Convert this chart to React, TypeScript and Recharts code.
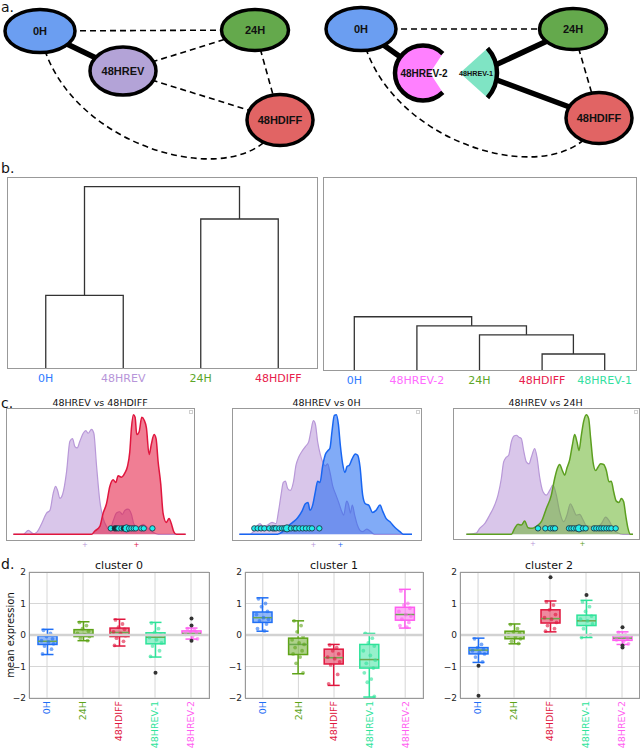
import React from 'react';
import {
  ComposedChart,
  ScatterChart,
  Scatter,
  XAxis,
  YAxis,
  Area,
  Bar,
  CartesianGrid,
  ReferenceLine,
} from 'recharts';

const FONT = '"DejaVu Sans", sans-serif';
const NODE_FONT = '"Liberation Sans", Arial, sans-serif';

// ---------------- Panel a: state graphs (layout coordinates) ----------------
const graphLeftNodes = [
  { id: '0H', x: 40, y: 31 },
  { id: '48HREV', x: 123, y: 71 },
  { id: '24H', x: 255, y: 30 },
  { id: '48HDIFF', x: 280, y: 120 },
];
const graphLeftEdges = [
  ['0H', '48HREV', 'strong'],
  ['0H', '24H', 'weak'],
  ['48HREV', '24H', 'weak'],
  ['48HREV', '48HDIFF', 'weak'],
  ['24H', '48HDIFF', 'weak'],
  ['0H', '48HDIFF', 'arc'],
];
const graphRightNodes = [
  { id: '0H', x: 361, y: 29 },
  { id: '48HREV-2', x: 423, y: 73 },
  { id: '48HREV-1', x: 478, y: 73 },
  { id: '24H', x: 573, y: 29 },
  { id: '48HDIFF', x: 599, y: 118 },
];
const graphRightEdges = [
  ['0H', '48HREV-2', 'strong'],
  ['0H', '24H', 'weak'],
  ['48HREV-1', '24H', 'strong'],
  ['48HREV-1', '48HDIFF', 'strong'],
  ['24H', '48HDIFF', 'weak'],
  ['0H', '48HDIFF', 'arc'],
];

// ---------------- Panel b: dendrograms ----------------
const dendroLeftLeaves = ['0H', '48HREV', '24H', '48HDIFF'];
const dendroLeftTicks = [5, 15, 25, 35];
const dendroLeftLinks = [
  { xs: [5, 5, 15, 15], ys: [0, 0.38, 0.38, 0] },
  { xs: [25, 25, 35, 35], ys: [0, 0.78, 0.78, 0] },
  { xs: [10, 10, 30, 30], ys: [0.38, 0.95, 0.95, 0.78] },
];
const dendroRightLeaves = ['0H', '48HREV-2', '24H', '48HDIFF', '48HREV-1'];
const dendroRightTicks = [5, 15, 25, 35, 45];
const dendroRightLinks = [
  { xs: [35, 35, 45, 45], ys: [0, 0.083, 0.083, 0] },
  { xs: [25, 25, 40, 40], ys: [0, 0.182, 0.182, 0.083] },
  { xs: [15, 15, 32.5, 32.5], ys: [0, 0.229, 0.229, 0.182] },
  { xs: [5, 5, 23.75, 23.75], ys: [0, 0.276, 0.276, 0.229] },
];

// ---------------- Panel c: densities ----------------
const revVsDiffRev = [
  [4.0, 0], [7.0, 0], [8.5, 3], [10.0, 0.5], [11.0, 1.5], [12.5, 8], [14.0, 16], [15.0, 18],
  [16.0, 31], [16.7, 36], [17.3, 33], [18.0, 27], [18.8, 30], [20.0, 47], [21.0, 70], [21.8, 72],
  [22.5, 66], [23.2, 65], [24.0, 70], [25.0, 76], [25.8, 78], [26.5, 76], [27.5, 79], [28.2, 76],
  [29.0, 52], [30.0, 25], [31.0, 12], [32.0, 6], [33.0, 3], [34.0, 10], [35.0, 16], [36.0, 17],
  [36.8, 15], [37.5, 18], [38.5, 19], [39.5, 15], [40.2, 8], [41.5, 5], [43.0, 7.5], [44.5, 4.5],
  [46.0, 1.5], [47.5, 0], [55.8, 0],
];
const revVsDiffDiff = [
  [4.0, 0], [27.5, 0], [28.5, 2.5], [30.0, 6], [31.0, 16], [32.0, 23], [33.0, 36], [34.0, 41],
  [34.8, 39], [35.5, 44], [36.5, 43], [37.5, 46], [38.3, 51], [39.0, 62], [39.5, 80], [40.1, 90],
  [40.6, 88], [41.1, 75], [41.8, 77], [42.6, 88], [43.3, 86], [44.0, 80], [44.8, 60], [45.5, 68],
  [46.3, 75], [46.9, 72], [47.5, 55], [48.3, 38], [49.0, 16], [50.0, 9], [50.8, 12], [51.5, 8],
  [52.2, 2], [53.0, 0], [55.8, 0],
];
const revVsDiffCells = [
  [33.3, 0], [34.5, 1], [35.0, 1], [35.6, 0], [36.5, 0], [37.2, 1], [38.0, 2], [38.8, 0],
  [39.5, 0], [40.2, 0], [40.8, 0], [42.5, 0], [43.2, 0], [45.8, 0],
];
const revVsDiffMeans = [25.5, 41.0];

const revVs0hRev = [
  [4.0, 0], [7.2, 0], [8.2, 2], [9.2, 6], [10.2, 8], [11.2, 6], [12.5, 7], [13.8, 9], [15.0, 8],
  [15.8, 18], [16.5, 29.5], [17.2, 39], [17.8, 40], [18.5, 34.5], [19.3, 33], [20.2, 39], [21.0, 52],
  [21.8, 58], [22.8, 62.5], [23.8, 66], [24.8, 69.5], [25.5, 78], [26.2, 85.5], [26.8, 83], [27.5, 69.5],
  [28.3, 60], [29.0, 54.5], [29.8, 51.5], [30.5, 53], [31.2, 46.5], [32.0, 36.5], [33.0, 29.5],
  [33.8, 24], [34.6, 18], [35.3, 14.5], [36.2, 25], [36.8, 22], [37.3, 16], [37.9, 22], [38.6, 14.5],
  [39.4, 7], [40.2, 3], [41.0, 2], [42.2, 4], [43.2, 2.5], [44.5, 0], [55.8, 0],
];
const revVs0h0h = [
  [4.0, 0], [15.5, 0], [17.0, 2], [18.5, 6], [20.0, 9], [21.5, 12.5], [22.8, 17.5], [23.8, 23],
  [24.6, 24], [25.2, 18], [26.0, 22], [26.8, 32], [27.5, 40], [28.2, 39], [29.0, 51.5], [29.8, 60],
  [30.6, 63], [31.2, 65], [31.8, 77.5], [32.5, 89.5], [33.1, 90], [33.7, 83], [34.3, 67], [35.0, 53],
  [35.7, 46.5], [36.3, 51], [37.0, 52], [37.8, 56.5], [38.8, 60.5], [39.5, 59.5], [40.2, 51],
  [41.0, 29.5], [41.8, 23], [42.8, 22], [44.0, 16.5], [45.0, 18], [46.2, 22], [47.0, 17.5],
  [48.0, 12], [49.2, 9.5], [50.2, 6.5], [51.2, 4], [52.2, 2], [53.2, 0], [55.8, 0],
];
const revVs0hCells = [
  [8.5, 0], [9.5, 0], [10.5, 0], [11.5, 0], [13.0, 0], [14.0, 0], [14.5, 0], [15.0, 0], [16.0, 0],
  [16.8, 0], [17.5, 0], [18.3, 2], [19.5, 0], [20.5, 0], [21.0, 0], [22.0, 0], [23.0, 0], [24.0, 0],
  [25.0, 0], [25.8, 0], [28.0, 0],
];
const revVs0hMeans = [26.2, 34.3];

const revVs24hRev = [
  [6.0, 0], [9.0, 1], [10.0, 4.5], [11.5, 8], [13.0, 14.5], [14.5, 22], [15.5, 29.5], [16.5, 42],
  [17.2, 54.5], [18.0, 58], [18.7, 59.5], [19.5, 69.5], [20.3, 74], [21.0, 74.5], [21.8, 73],
  [22.5, 72], [23.2, 63], [24.0, 54.5], [24.8, 53], [25.5, 58], [26.5, 64.5], [27.2, 58], [28.0, 43],
  [29.0, 32], [30.0, 29.5], [31.0, 33], [32.0, 37], [33.0, 29.5], [34.0, 17], [35.2, 9.5],
  [36.2, 14.5], [37.2, 23], [38.0, 19.5], [39.0, 14.5], [40.0, 15], [41.0, 11], [42.0, 6.5],
  [43.5, 6], [45.0, 5], [46.5, 8], [47.8, 13], [49.0, 9.5], [50.0, 4.5], [51.5, 1], [53.0, 0],
  [56.0, 0],
];
const revVs24h24h = [
  [6.0, 0], [19.5, 0], [20.5, 4.5], [21.5, 7.5], [22.5, 7], [23.5, 10], [24.5, 5], [25.8, 4.5],
  [27.0, 6], [28.5, 9.5], [30.0, 19.5], [31.5, 29.5], [32.5, 42], [33.3, 49.5], [34.0, 52.5],
  [34.8, 48], [35.5, 44.5], [36.2, 50], [37.0, 56], [37.8, 67], [38.5, 75], [39.2, 69.5], [39.8, 63],
  [40.5, 74.5], [41.2, 85], [42.0, 90], [42.7, 87], [43.3, 72], [44.0, 54.5], [44.8, 48],
  [45.5, 50.5], [46.3, 53], [47.2, 52.5], [48.0, 48], [48.8, 39.5], [49.5, 40], [50.2, 32],
  [51.0, 25], [51.8, 24], [52.5, 27], [53.2, 24.5], [53.8, 14.5], [54.5, 4.5], [55.2, 0], [56.0, 0],
];
const revVs24hCells = [
  [27.5, 0], [29.7, 0], [31.2, 0], [32.0, 0], [32.6, 0], [36.8, 0], [37.5, 0], [38.2, 0], [39.0, 0],
  [39.8, 2], [41.0, 0], [41.8, 0], [44.3, 0], [45.0, 0], [45.8, 0], [46.5, 0], [47.2, 0], [48.0, 0],
  [48.8, 0], [49.5, 0], [50.8, 0],
];
const revVs24hMeans = [26.0, 40.8];

// ---------------- Panel d: cluster box plots ----------------
const boxCategories = ['0H', '24H', '48HDIFF', '48HREV-1', '48HREV-2'];
// [lower whisker, q1, median, q3, upper whisker]
const cluster0Box = [
  [-0.62, -0.3, -0.2, -0.03, 0.18],
  [-0.18, -0.05, 0.03, 0.17, 0.42],
  [-0.35, -0.05, 0.08, 0.22, 0.5],
  [-0.7, -0.28, -0.07, 0.07, 0.4],
  [-0.13, 0.0, 0.05, 0.13, 0.22],
];
const cluster0Points = [
  [0.15, 0.05, -0.05, -0.12, -0.18, -0.22, -0.28, -0.35, -0.45, -0.6],
  [0.4, 0.3, 0.2, 0.12, 0.05, 0.0, -0.05, -0.1, -0.18],
  [0.48, 0.35, 0.25, 0.18, 0.1, 0.05, -0.02, -0.1, -0.2, -0.33],
  [0.38, 0.2, 0.08, 0.0, -0.08, -0.15, -0.25, -0.35, -0.5, -0.68],
  [0.2, 0.15, 0.1, 0.06, 0.02, -0.05, -0.12],
];
const cluster0Outliers = [[], [], [], [-1.2], [0.52, 0.3, -0.18]];

const cluster1Box = [
  [0.12, 0.4, 0.55, 0.73, 1.18],
  [-1.23, -0.62, -0.3, -0.1, 0.45],
  [-1.6, -0.92, -0.72, -0.45, -0.3],
  [-1.97, -1.05, -0.78, -0.3, 0.05],
  [0.22, 0.47, 0.65, 0.88, 1.45],
];
const cluster1Points = [
  [1.15, 1.0, 0.9, 0.75, 0.65, 0.55, 0.5, 0.45, 0.35, 0.2, 0.13],
  [0.45, 0.3, 0.1, -0.05, -0.15, -0.25, -0.3, -0.4, -0.5, -0.6, -0.7, -0.9, -1.2],
  [-0.32, -0.4, -0.5, -0.6, -0.7, -0.75, -0.85, -0.95, -1.25, -1.55],
  [0.05, -0.1, -0.25, -0.35, -0.5, -0.65, -0.8, -0.9, -1.05, -1.2, -1.4, -1.5, -1.95],
  [1.4, 1.0, 0.95, 0.85, 0.75, 0.65, 0.6, 0.5, 0.4, 0.3, 0.25],
];
const cluster1Outliers = [[], [], [], [], []];

const cluster2Box = [
  [-0.87, -0.6, -0.48, -0.4, -0.1],
  [-0.28, -0.12, 0.0, 0.12, 0.35],
  [0.1, 0.38, 0.52, 0.8, 1.08],
  [-0.08, 0.3, 0.45, 0.63, 1.1],
  [-0.3, -0.17, -0.1, -0.02, 0.1],
];
const cluster2Points = [
  [-0.12, -0.3, -0.4, -0.45, -0.5, -0.55, -0.6, -0.7, -0.85],
  [0.33, 0.2, 0.1, 0.05, 0.0, -0.05, -0.12, -0.2, -0.27],
  [1.05, 0.95, 0.8, 0.65, 0.55, 0.5, 0.4, 0.3, 0.2, 0.12],
  [1.05, 0.9, 0.75, 0.6, 0.5, 0.45, 0.35, 0.2, 0.0, -0.08],
  [0.08, 0.0, -0.05, -0.1, -0.15, -0.2, -0.28],
];
const cluster2Outliers = [[-0.98, -1.93], [], [1.83], [1.27], [0.25, -0.33, -0.4]];
const yTicks = [-2, -1, 0, 1, 2];

// ---------------- Styles ----------------
const NODE_STYLE: Record<string, any> = {
  '0H': { fill: '#6b9ef1', rx: 35, ry: 21.5, font: 11 },
  '24H': { fill: '#64a94c', rx: 33.5, ry: 20.5, font: 11 },
  '48HREV': { fill: '#b3a3d7', rx: 33, ry: 24, font: 11 },
  '48HDIFF': { fill: '#e16464', rx: 33, ry: 25.5, font: 11 },
  '48HREV-2': { fill: '#ff80ff', rx: 28, ry: 27.5, font: 10 },
  '48HREV-1': { fill: '#7fe4c4', r: 37, font: 7.2 },
};
const EDGE_STYLE: Record<string, any> = {
  strong: { strokeWidth: 5.5 },
  weak: { strokeWidth: 1.6, strokeDasharray: '6 4' },
};
const LABEL_COLORS: Record<string, string> = {
  '0H': '#2f7bff',
  '48HREV': '#b795d9',
  '24H': '#5da62a',
  '48HDIFF': '#e8204c',
  '48HREV-2': '#ff6bff',
  '48HREV-1': '#33e0a0',
};
const BOX_COLORS: Record<string, string> = {
  '0H': '#1f6ff5',
  '24H': '#5ea317',
  '48HDIFF': '#e0163e',
  '48HREV-1': '#2ee39a',
  '48HREV-2': '#ff5ef0',
};
const LAV_STROKE = '#b898d8';
const LAV_FILL = '#b48ed6';
const JITTER = [-4, 3, -1, 5, -6, 1, 6, -3, 4, -5, 2, -2, 5, -4, 0];

// ---------------- Helpers ----------------
function Empty() {
  return <g />;
}

function ArcEdge(props: any) {
  const pts = props.points || [];
  if (pts.length < 2) return <g />;
  const p = pts[0];
  const q = pts[1];
  const d = `M${p.x},${p.y} C${p.x + 20},${p.y + 119} ${q.x - 30},${q.y + 80} ${q.x},${q.y}`;
  return <path d={d} fill="none" stroke="#000" strokeWidth={1.6} strokeDasharray="6 4" />;
}

function renderEdges(nodes: any[], edges: any[], prefix: string) {
  const pos: Record<string, any> = {};
  nodes.forEach((n) => {
    pos[n.id] = n;
  });
  return edges.map(([a, b, kind]: any, i: number) => {
    const data = [
      { x: pos[a].x, y: pos[a].y },
      { x: pos[b].x, y: pos[b].y },
    ];
    const line = kind === 'arc' ? (p: any) => <ArcEdge {...p} /> : { stroke: '#000', ...EDGE_STYLE[kind] };
    return (
      <Scatter
        key={prefix + i}
        data={data}
        line={line}
        lineJointType="linear"
        shape={Empty}
        isAnimationActive={false}
      />
    );
  });
}

function NodeShape(props: any) {
  const { cx, cy, payload } = props;
  const id = payload.id;
  const s = NODE_STYLE[id];
  const label = (dx: number, size: number) => (
    <text
      x={cx + dx}
      y={cy}
      dy="0.36em"
      textAnchor="middle"
      fontFamily={NODE_FONT}
      fontWeight="bold"
      fontSize={size}
      fill="#111"
    >
      {id}
    </text>
  );
  if (id === '48HREV-2') {
    const a = Math.PI / 4;
    const tx = cx + s.rx * Math.cos(a);
    const ty = cy - s.ry * Math.sin(a);
    const by = cy + s.ry * Math.sin(a);
    const arc = `M${tx},${ty} A${s.rx},${s.ry} 0 1 0 ${tx},${by}`;
    return (
      <g>
        <path d={`${arc} L${cx + 7},${cy} Z`} fill={s.fill} />
        <path d={arc} fill="none" stroke="#000" strokeWidth={4.5} />
        {label(1, s.font)}
      </g>
    );
  }
  if (id === '48HREV-1') {
    const vx = cx - 18;
    const a = (42 * Math.PI) / 180;
    const tx = vx + s.r * Math.cos(a);
    const ty = cy - s.r * Math.sin(a);
    const by = cy + s.r * Math.sin(a);
    const arc = `M${tx},${ty} A${s.r},${s.r} 0 0 1 ${tx},${by}`;
    return (
      <g>
        <path d={`M${vx},${cy} L${tx},${ty} A${s.r},${s.r} 0 0 1 ${tx},${by} Z`} fill={s.fill} />
        <path d={arc} fill="none" stroke="#000" strokeWidth={4.5} />
        {label(-2, s.font)}
      </g>
    );
  }
  return (
    <g>
      <ellipse cx={cx} cy={cy} rx={s.rx} ry={s.ry} fill={s.fill} stroke="#000" strokeWidth={3.5} />
      {label(0, s.font)}
    </g>
  );
}

function mergeSeries(a: number[][], b: number[][]) {
  const map = new Map<number, any>();
  a.forEach(([x, y]) => {
    const r = map.get(x) || { x };
    r.a = y;
    map.set(x, r);
  });
  b.forEach(([x, y]) => {
    const r = map.get(x) || { x };
    r.b = y;
    map.set(x, r);
  });
  return Array.from(map.values()).sort((p, q) => p.x - q.x);
}

function CellDot(props: any) {
  const { cx, cy, payload } = props;
  const kind = payload.kind;
  return (
    <circle
      cx={cx}
      cy={cy}
      r={kind === 2 ? 3.6 : 2.7}
      fill={kind === 1 ? '#0b2a30' : '#22eeee'}
      stroke="#1d3b4a"
      strokeWidth={0.9}
    />
  );
}

function Dendrogram({ links, leaves, ticks, width, plotH, domainX }: any) {
  return (
    <ScatterChart width={width} height={plotH + 24} margin={{ top: 0, right: 0, bottom: 0, left: 0 }}>
      <XAxis
        type="number"
        dataKey="x"
        domain={domainX}
        ticks={ticks}
        interval={0}
        allowDataOverflow
        axisLine={false}
        tickLine={false}
        tickSize={0}
        height={24}
        tick={(p: any) => {
          const name = leaves[ticks.indexOf(p.payload.value)];
          return (
            <text x={p.x} y={p.y + 12} textAnchor="middle" fontSize={11} fontFamily={FONT} fill={LABEL_COLORS[name]}>
              {name}
            </text>
          );
        }}
      />
      <YAxis type="number" dataKey="y" domain={[0, 1]} hide allowDataOverflow />
      {links.map((l: any, i: number) => (
        <Scatter
          key={i}
          data={l.xs.map((x: number, j: number) => ({ x, y: l.ys[j] }))}
          line={{ stroke: '#333', strokeWidth: 1.3 }}
          shape={Empty}
          isAnimationActive={false}
        />
      ))}
    </ScatterChart>
  );
}

function DensityPlot({ a, b, colorB, fillB, cells, means, xDomain, yDomain, width, plotH }: any) {
  const rows = mergeSeries(a, b);
  const pts = cells.map(([x, kind]: number[]) => ({ x, y: 4.5, kind }));
  const tickColors = [LAV_STROKE, colorB];
  return (
    <ComposedChart width={width} height={plotH + 12} data={rows} margin={{ top: 0, right: 0, bottom: 0, left: 0 }}>
      <XAxis
        type="number"
        dataKey="x"
        domain={xDomain}
        ticks={means}
        interval={0}
        allowDataOverflow
        axisLine={false}
        tickLine={false}
        tickSize={0}
        height={12}
        tick={(p: any) => (
          <text x={p.x} y={p.y + 5} textAnchor="middle" fontSize={7} fontFamily={FONT} fill={tickColors[means.indexOf(p.payload.value)]}>
            +
          </text>
        )}
      />
      <YAxis type="number" domain={yDomain} hide allowDataOverflow />
      <Area
        type="monotoneX"
        dataKey="a"
        connectNulls
        stroke={LAV_STROKE}
        strokeWidth={1.2}
        fill={LAV_FILL}
        fillOpacity={0.5}
        dot={false}
        activeDot={false}
        isAnimationActive={false}
      />
      <Area
        type="monotoneX"
        dataKey="b"
        connectNulls
        stroke={colorB}
        strokeWidth={1.5}
        fill={fillB}
        fillOpacity={0.55}
        dot={false}
        activeDot={false}
        isAnimationActive={false}
      />
      <Scatter data={pts} dataKey="y" shape={CellDot} isAnimationActive={false} />
    </ComposedChart>
  );
}

function buildBoxRows(box: number[][], points: number[][], outliers: number[][]) {
  return boxCategories.map((name, i) => ({
    name,
    lo: box[i][0],
    q1: box[i][1],
    med: box[i][2],
    q3: box[i][3],
    hi: box[i][4],
    pts: points[i],
    out: outliers[i],
  }));
}

function BoxShape(props: any) {
  const { x, y, width, height, payload } = props;
  if (!payload) return <g />;
  const top = Math.min(y, y + height);
  const bot = Math.max(y, y + height);
  const { lo, hi } = payload;
  const py = (v: number) => top + ((hi - v) / (hi - lo)) * (bot - top);
  const cx = x + width / 2;
  const color = BOX_COLORS[payload.name];
  const cap = 6;
  return (
    <g>
      <line x1={cx} x2={cx} y1={py(hi)} y2={py(payload.q3)} stroke={color} strokeWidth={1.5} />
      <line x1={cx} x2={cx} y1={py(payload.q1)} y2={py(lo)} stroke={color} strokeWidth={1.5} />
      <line x1={cx - cap} x2={cx + cap} y1={py(hi)} y2={py(hi)} stroke={color} strokeWidth={1.5} />
      <line x1={cx - cap} x2={cx + cap} y1={py(lo)} y2={py(lo)} stroke={color} strokeWidth={1.5} />
      <rect
        x={x}
        y={py(payload.q3)}
        width={width}
        height={py(payload.q1) - py(payload.q3)}
        fill={color}
        fillOpacity={0.5}
        stroke={color}
        strokeWidth={1.5}
      />
      <line x1={x} x2={x + width} y1={py(payload.med)} y2={py(payload.med)} stroke="#6aa84f" strokeWidth={1.5} />
      {payload.pts.map((v: number, i: number) => (
        <circle key={'p' + i} cx={cx + JITTER[i % JITTER.length]} cy={py(v)} r={1.9} fill={color} fillOpacity={0.6} />
      ))}
      {payload.out.map((v: number, i: number) => (
        <circle key={'o' + i} cx={cx} cy={py(v)} r={2} fill="#333" />
      ))}
    </g>
  );
}

function CatTick(props: any) {
  const { x, y, payload } = props;
  const ty = y + 1;
  return (
    <text
      x={x}
      y={ty}
      transform={`rotate(-90 ${x} ${ty})`}
      textAnchor="end"
      dy="0.35em"
      fontSize={9.5}
      fontFamily={FONT}
      fill={BOX_COLORS[payload.value]}
    >
      {payload.value}
    </text>
  );
}

const fmtMinus = (v: number) => (v < 0 ? `\u2212${Math.abs(v)}` : String(v));

function BoxPlot({ rows, width, marginRight }: any) {
  return (
    <ComposedChart width={width} height={189} data={rows} margin={{ top: 12, right: marginRight, bottom: 0, left: 0 }}>
      <CartesianGrid stroke="#d6d6d6" strokeWidth={1} />
      <XAxis dataKey="name" type="category" interval={0} axisLine={false} tickLine={false} tickSize={0} height={51} tick={CatTick} />
      <YAxis
        type="number"
        domain={[-2, 2]}
        ticks={yTicks}
        interval={0}
        allowDataOverflow
        width={29}
        axisLine={false}
        tickLine={false}
        tickSize={0}
        tickMargin={3}
        tick={{ fontSize: 9, fill: '#222', fontFamily: FONT }}
        tickFormatter={fmtMinus}
      />
      <ReferenceLine y={0} stroke="#d2d2d2" strokeWidth={2.5} />
      <Bar dataKey={(d: any) => [d.lo, d.hi]} barSize={19} shape={BoxShape} isAnimationActive={false} />
    </ComposedChart>
  );
}

const abs = (left: number, top: number): React.CSSProperties => ({ position: 'absolute', left, top });
const frame = (left: number, top: number, w: number, h: number, color = '#999'): React.CSSProperties => ({
  position: 'absolute',
  left,
  top,
  width: w,
  height: h,
  border: `1px solid ${color}`,
  boxSizing: 'border-box',
  pointerEvents: 'none',
});

export default function App() {
  const rows0 = buildBoxRows(cluster0Box, cluster0Points, cluster0Outliers);
  const rows1 = buildBoxRows(cluster1Box, cluster1Points, cluster1Outliers);
  const rows2 = buildBoxRows(cluster2Box, cluster2Points, cluster2Outliers);
  return (
    <div
      style={{
        position: 'absolute',
        left: 0,
        top: 0,
        width: 640,
        height: 749,
        background: '#fff',
        overflow: 'hidden',
        fontFamily: FONT,
      }}
    >
      {/* Panel a */}
      <div style={abs(0, 0)}>
        <ScatterChart width={640} height={160} margin={{ top: 0, right: 0, bottom: 0, left: 0 }}>
          <XAxis type="number" dataKey="x" domain={[0, 640]} hide allowDataOverflow />
          <YAxis type="number" dataKey="y" domain={[0, 160]} reversed hide allowDataOverflow />
          {renderEdges(graphLeftNodes, graphLeftEdges, 'L')}
          {renderEdges(graphRightNodes, graphRightEdges, 'R')}
          <Scatter data={graphLeftNodes} shape={NodeShape} isAnimationActive={false} />
          <Scatter data={graphRightNodes} shape={NodeShape} isAnimationActive={false} />
        </ScatterChart>
      </div>

      {/* Panel b */}
      <div style={abs(7, 177)}>
        <Dendrogram links={dendroLeftLinks} leaves={dendroLeftLeaves} ticks={dendroLeftTicks} width={310} plotH={191} domainX={[0, 40]} />
      </div>
      <div style={frame(7, 177, 311, 192)} />
      <div style={abs(323, 177)}>
        <Dendrogram links={dendroRightLinks} leaves={dendroRightLeaves} ticks={dendroRightTicks} width={313} plotH={193} domainX={[0, 50]} />
      </div>
      <div style={frame(323, 177, 314, 194)} />

      {/* Panel c */}
      <div style={abs(6, 408)}>
        <DensityPlot
          a={revVsDiffRev}
          b={revVsDiffDiff}
          colorB="#e0163e"
          fillB="#e3143c"
          cells={revVsDiffCells}
          means={revVsDiffMeans}
          xDomain={[1.8, 58.3]}
          yDomain={[-4.25, 95]}
          width={188}
          plotH={132}
        />
      </div>
      <div style={frame(6, 408, 189, 133)} />
      <div style={abs(232, 408)}>
        <DensityPlot
          a={revVs0hRev}
          b={revVs0h0h}
          colorB="#1866f2"
          fillB="#1a66f0"
          cells={revVs0hCells}
          means={revVs0hMeans}
          xDomain={[1.8, 58.5]}
          yDomain={[-4.25, 95]}
          width={189}
          plotH={132}
        />
      </div>
      <div style={frame(232, 408, 190, 133)} />
      <div style={abs(453, 408)}>
        <DensityPlot
          a={revVs24hRev}
          b={revVs24h24h}
          colorB="#5c9f20"
          fillB="#6ab42e"
          cells={revVs24hCells}
          means={revVs24hMeans}
          xDomain={[2.0, 57.8]}
          yDomain={[-3.5, 95]}
          width={186}
          plotH={131}
        />
      </div>
      <div style={frame(453, 408, 187, 132)} />
      <div style={frame(189, 410, 4, 4, '#d0d0d0')} />
      <div style={frame(416, 410, 4, 4, '#d0d0d0')} />
      <div style={frame(634, 410, 4, 4, '#d0d0d0')} />

      {/* Panel d */}
      <div style={abs(0, 560)}>
        <BoxPlot rows={rows0} width={212} marginRight={3} />
      </div>
      <div style={frame(29, 572, 181, 127)} />
      <div style={abs(216, 560)}>
        <BoxPlot rows={rows1} width={210} marginRight={3} />
      </div>
      <div style={frame(245, 572, 179, 127)} />
      <div style={abs(431, 560)}>
        <BoxPlot rows={rows2} width={209} marginRight={0} />
      </div>
      <div style={frame(460, 572, 180, 127)} />

      {/* Text overlay */}
      <svg width={640} height={749} style={{ position: 'absolute', left: 0, top: 0, pointerEvents: 'none' }}>
        <g fontFamily={FONT} fill="#111">
          <text x={1} y={12} fontSize={14}>a.</text>
          <text x={1} y={173} fontSize={14}>b.</text>
          <text x={1} y={408} fontSize={14}>c.</text>
          <text x={1} y={569} fontSize={14}>d.</text>
          <text x={100} y={406} fontSize={9.5} textAnchor="middle">48HREV vs 48HDIFF</text>
          <text x={326.5} y={406} fontSize={9.5} textAnchor="middle">48HREV vs 0H</text>
          <text x={545.5} y={406} fontSize={9.5} textAnchor="middle">48HREV vs 24H</text>
          <text x={119} y={569} fontSize={11} textAnchor="middle">cluster 0</text>
          <text x={334} y={569} fontSize={11} textAnchor="middle">cluster 1</text>
          <text x={549} y={569} fontSize={11} textAnchor="middle">cluster 2</text>
          <text x={10} y={635} fontSize={10} textAnchor="middle" dy="0.35em" transform="rotate(-90 10 635)">
            mean expression
          </text>
        </g>
      </svg>
    </div>
  );
}
